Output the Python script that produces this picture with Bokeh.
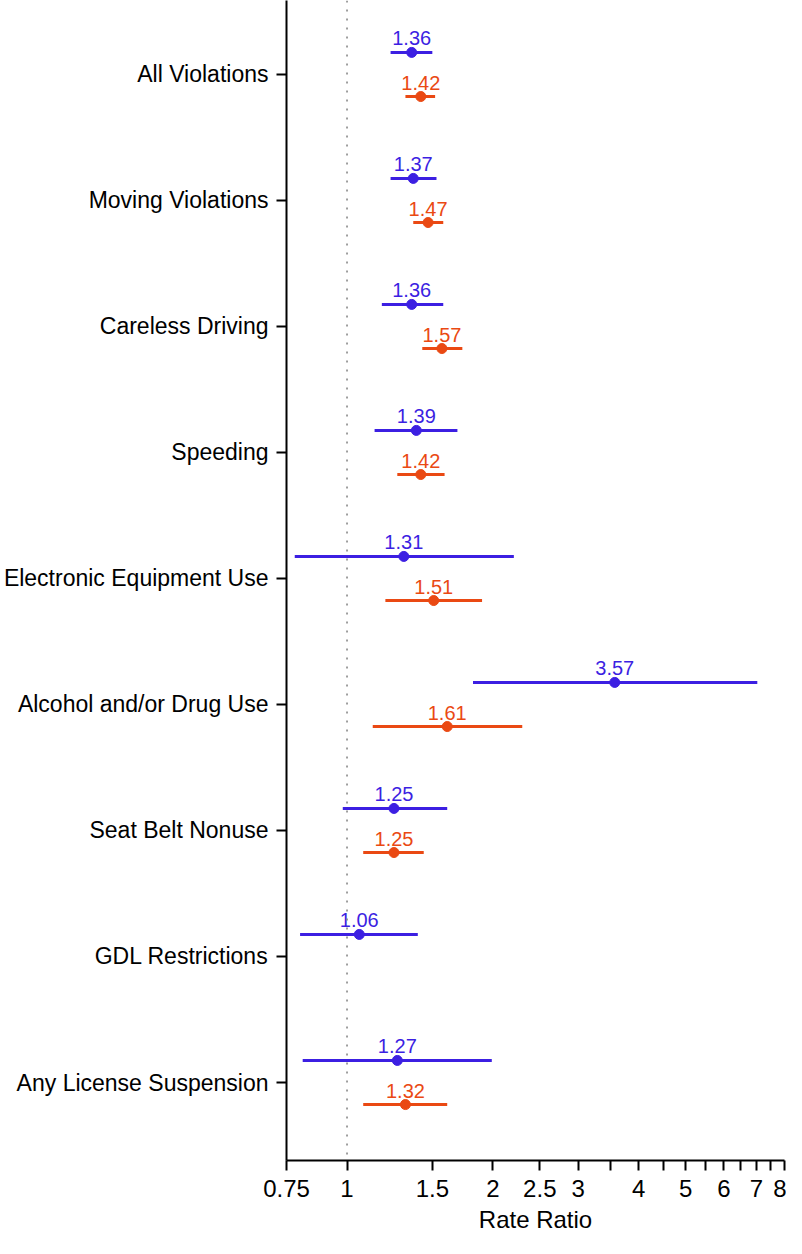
from bokeh.plotting import figure
from bokeh.models import Range1d, FixedTicker, Span, ColumnDataSource
from bokeh.core.properties import value
from bokeh.embed import file_html
from bokeh.resources import INLINE

categories = ["All Violations", "Moving Violations", "Careless Driving", "Speeding",
              "Electronic Equipment Use", "Alcohol and/or Drug Use", "Seat Belt Nonuse",
              "GDL Restrictions", "Any License Suspension"]

blue_rr = [1.36, 1.37, 1.36, 1.39, 1.31, 3.57, 1.25, 1.06, 1.27]
blue_lo = [1.23, 1.23, 1.18, 1.14, 0.78, 1.82, 0.98, 0.80, 0.81]
blue_hi = [1.50, 1.53, 1.58, 1.69, 2.21, 7.03, 1.61, 1.40, 1.99]

orange_rows = [0, 1, 2, 3, 4, 5, 6, 8]
orange_rr = [1.42, 1.47, 1.57, 1.42, 1.51, 1.61, 1.25, 1.32]
orange_lo = [1.32, 1.37, 1.43, 1.27, 1.20, 1.13, 1.08, 1.08]
orange_hi = [1.52, 1.58, 1.73, 1.59, 1.90, 2.30, 1.44, 1.61]

x_ticks = [0.75, 1, 1.5, 2, 2.5, 3, 3.5, 4, 4.5, 5, 5.5, 6, 6.5, 7, 7.5, 8]
x_tick_labels = ["0.75", "1", "1.5", "2", "2.5", "3", "", "4", "", "5", "", "6", "", "7", "", "8"]

BLUE = "#3c1fe2"
ORANGE = "#ea4913"
FONT = "Liberation Sans"
OFF = 0.175

p = figure(width=786, height=1238, x_axis_type="log", output_backend="svg",
           toolbar_location=None, x_range=Range1d(0.75, 8),
           y_range=Range1d(len(categories) - 1 + 0.619, -0.587),
           min_border_left=285, min_border_right=2, min_border_top=0, min_border_bottom=78)
p.outline_line_color = None
p.xgrid.visible = False
p.ygrid.visible = False

p.add_layout(Span(location=1, dimension="height", line_color="#7f7f7f",
                  line_width=1.5, line_dash="2 7"))

def add_series(rows, rr, lo, hi, color, shift):
    ys = [r + shift for r in rows]
    src = ColumnDataSource(dict(y=ys, rr=rr, lo=lo, hi=hi,
                                txt=["%.2f" % v for v in rr]))
    p.segment(x0="lo", x1="hi", y0="y", y1="y", source=src, line_color=color, line_width=3)
    p.scatter(x="rr", y="y", source=src, size=10, fill_color=color, line_color=color)
    p.text(x="rr", y="y", text="txt", source=src, text_color=color,
           text_align="center", text_baseline="bottom", y_offset=-7,
           text_font=value(FONT), text_font_size="20px")

add_series(list(range(len(categories))), blue_rr, blue_lo, blue_hi, BLUE, -OFF)
add_series(orange_rows, orange_rr, orange_lo, orange_hi, ORANGE, OFF)

xa = p.xaxis[0]
xa.ticker = FixedTicker(ticks=x_ticks, minor_ticks=[])
xa.major_label_overrides = {float(t): l for t, l in zip(x_ticks, x_tick_labels)}
xa.axis_label = "Rate Ratio"
xa.axis_label_text_font = FONT
xa.axis_label_text_font_style = "normal"
xa.axis_label_text_font_size = "24px"
xa.axis_label_text_color = "black"
xa.axis_label_standoff = 6
xa.major_label_text_font = FONT
xa.major_label_text_font_size = "24px"
xa.major_label_standoff = 9
xa.major_tick_out = 10
xa.major_tick_in = 0
xa.minor_tick_out = 0
xa.minor_tick_in = 0
xa.axis_line_width = 2
xa.major_tick_line_width = 2
xa.axis_line_color = "black"
xa.major_tick_line_color = "black"
xa.major_label_text_color = "black"

ya = p.yaxis[0]
ya.ticker = FixedTicker(ticks=list(range(len(categories))), minor_ticks=[])
ya.major_label_overrides = {i: c for i, c in enumerate(categories)}
ya.major_label_text_font = FONT
ya.major_label_text_font_size = "23px"
ya.major_label_standoff = 8
ya.major_tick_out = 10
ya.major_tick_in = 0
ya.minor_tick_out = 0
ya.minor_tick_in = 0
ya.axis_line_width = 2
ya.major_tick_line_width = 2
ya.axis_line_color = "black"
ya.major_tick_line_color = "black"
ya.major_label_text_color = "black"

open("out.html", "w").write(file_html(p, INLINE))
